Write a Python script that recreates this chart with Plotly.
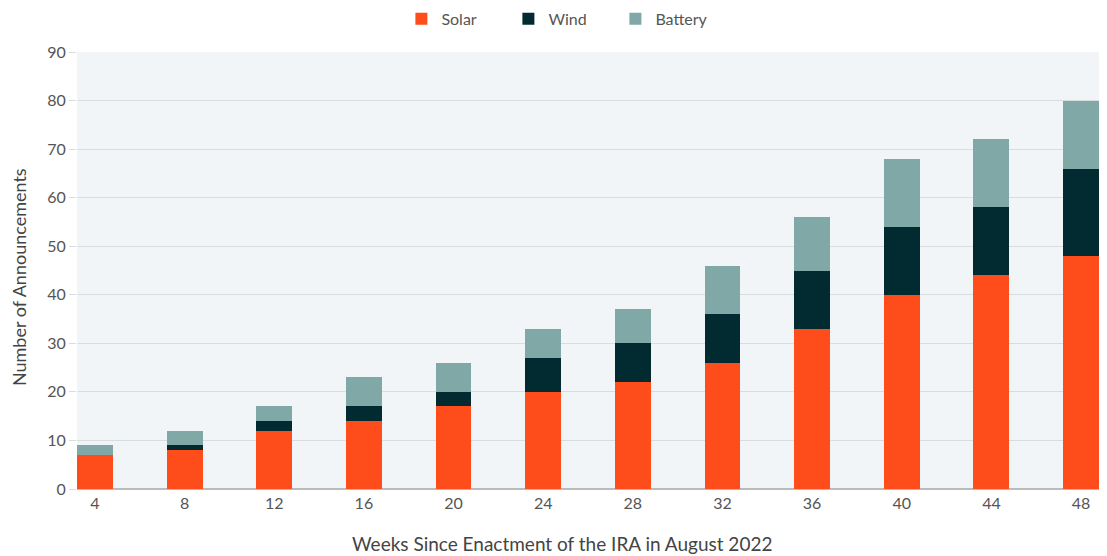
import plotly.graph_objects as go

weeks = [4, 8, 12, 16, 20, 24, 28, 32, 36, 40, 44, 48]
solar = [7, 8, 12, 14, 17, 20, 22, 26, 33, 40, 44, 48]
wind = [0, 1, 2, 3, 3, 7, 8, 10, 12, 14, 14, 18]
battery = [2, 3, 3, 6, 6, 6, 7, 10, 11, 14, 14, 14]
y_ticks = [0, 10, 20, 30, 40, 50, 60, 70, 80, 90]
x_title = "Weeks Since Enactment of the IRA in August 2022"
y_title = "Number of Announcements"

FONT = "Lato, Open Sans, sans-serif"

fig = go.Figure()
for name, vals, col in [("Solar", solar, "#ff4c1b"),
                        ("Wind", wind, "#022a31"),
                        ("Battery", battery, "#80a8a7")]:
    fig.add_trace(go.Bar(x=weeks, y=vals, name=name, width=1.6,
                         marker=dict(color=col, line=dict(width=0))))

# the page body adds an 8px offset, so the figure is drawn 8px smaller
fig.update_layout(
    barmode="stack",
    width=1099, height=548,
    margin=dict(l=69, r=8, t=44, b=67, autoexpand=False),
    paper_bgcolor="white",
    plot_bgcolor="#f1f5f7",
    font=dict(family=FONT, size=16, color="#555555"),
    legend=dict(orientation="h", xref="container", x=0.504, xanchor="center",
                yref="container", y=0.98, yanchor="middle",
                font=dict(size=16, color="#555555"), itemwidth=30,
                entrywidth=62, entrywidthmode="pixels",
                traceorder="normal"),
    xaxis=dict(range=[3.2, 48.8], tickvals=weeks, ticktext=[str(w) for w in weeks],
               showgrid=False, zeroline=False, showline=False, ticks="",
               ticklabelstandoff=3,
               tickfont=dict(size=16, color="#555555")),
    yaxis=dict(range=[0, 90], tickvals=y_ticks, showgrid=True, gridcolor="#d8dde0",
               gridwidth=1, zeroline=True, zerolinecolor="#b8bcbf", zerolinewidth=1.5,
               ticks="outside", ticklen=7, tickcolor="#d8dde0",
               tickfont=dict(size=16, color="#555555")),
    annotations=[
        dict(text=x_title, xref="paper", yref="paper", x=0.4746, y=0,
             xanchor="center", yanchor="middle", yshift=-54, showarrow=False,
             font=dict(size=19, color="#444444")),
        dict(text=y_title, xref="paper", yref="paper", x=0, y=0.485,
             xanchor="center", yanchor="middle", xshift=-58, textangle=-90,
             showarrow=False, font=dict(size=18, color="#444444")),
    ],
)

fig.write_html("out.html")
